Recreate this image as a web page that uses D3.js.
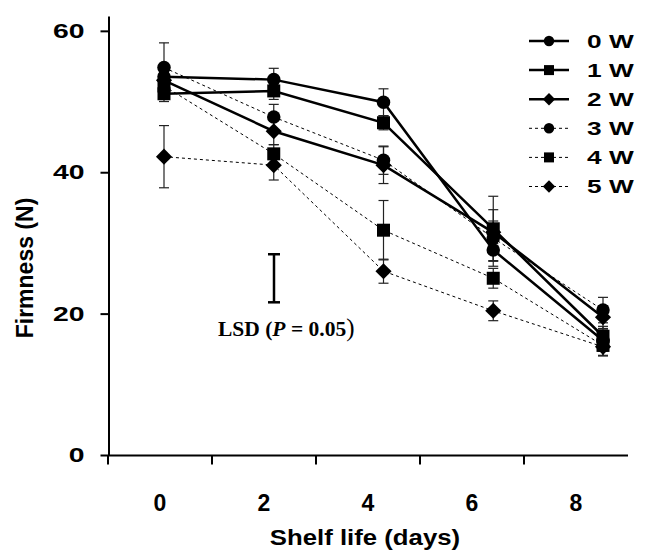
<!DOCTYPE html>
<html>
<head>
<meta charset="utf-8">
<script src="https://cdn.jsdelivr.net/npm/d3@7"></script>
<style>
  html, body { margin: 0; padding: 0; background: #fff; }
  svg { display: block; }
</style>
</head>
<body>
<svg id="chart" width="653" height="552"></svg>
<script>
// Shelf-life days and tick labels
const days = [0, 2, 4, 6, 8];
const dayLabels = ["0", "2", "4", "6", "8"];
const yTicks = [0, 20, 40, 60];

// Series names (storage weeks)
const seriesNames = ["0 W", "1 W", "2 W", "3 W", "4 W", "5 W"];

// Mean firmness (N) per series, one value per day
const firm0W = [53.5, 53.1, 49.9, 29.0, 16.2];
const firm1W = [51.1, 51.5, 47.0, 32.0, 16.8];
const firm2W = [53.0, 45.8, 41.0, 31.5, 19.5];
const firm3W = [54.8, 47.8, 41.7, 30.7, 20.5];
const firm4W = [52.2, 42.6, 31.8, 25.0, 15.5];
const firm5W = [42.2, 41.0, 26.0, 20.4, 15.3];

// Standard errors per series
const err0W = [1.5, 1.6, 1.9, 1.5, 1.5];
const err1W = [1.1, 1.2, 1.0, 4.6, 1.4];
const err2W = [1.2, 1.9, 2.6, 1.6, 1.6];
const err3W = [3.5, 1.8, 2.0, 4.0, 1.8];
const err4W = [1.3, 1.3, 4.2, 1.4, 1.4];
const err5W = [4.4, 2.1, 1.7, 1.4, 1.3];

// LSD bar (P = 0.05): bottom and top in N
const lsdLow = 21.6;
const lsdHigh = 28.4;

const shapes = ["circle", "square", "diamond", "circle", "square", "diamond"];
const dashed = [false, false, false, true, true, true];
const values = [firm0W, firm1W, firm2W, firm3W, firm4W, firm5W];
const errors = [err0W, err1W, err2W, err3W, err4W, err5W];

const series = seriesNames.map((name, i) => ({
  name, shape: shapes[i], dashed: dashed[i],
  points: days.map((d, j) => ({ day: d, v: values[i][j], e: errors[i][j] }))
}));

const SANS = "Liberation Sans, Arial, sans-serif";
const svg = d3.select("#chart");

// horizontal stretch of a text about a fixed anchor x
const stretch = (ax, k) => `translate(${ax},0) scale(${k},1) translate(${-ax},0)`;

// Scales
const xBand = d3.scaleBand().domain(dayLabels).range([108, 628]);
const x = d3.scaleLinear().domain([0, 8]).range([164, 603]);
const y = d3.scaleLinear().domain([0, 62.1]).range([455, 16]);

// Y axis
const yAxis = d3.axisLeft(y).tickValues(yTicks).tickSize(8).tickSizeOuter(0).tickPadding(16);
const yg = svg.append("g").attr("transform", "translate(108.5,0)").call(yAxis);
yg.select(".domain").attr("stroke", "#000").attr("stroke-width", 2);
yg.selectAll(".tick line").attr("stroke", "#000").attr("stroke-width", 2);
yg.selectAll(".tick text")
  .attr("font-family", SANS).attr("font-weight", "bold")
  .attr("font-size", 21).attr("fill", "#000")
  .attr("transform", stretch(-24, 1.35));

// X axis (category labels, ticks between categories)
const xAxis = d3.axisBottom(xBand).tickSize(0);
const xg = svg.append("g").attr("transform", "translate(0,455.5)").call(xAxis);
xg.select(".domain").attr("stroke", "#000").attr("stroke-width", 2).attr("d", "M108,0H628");
xg.selectAll(".tick text")
  .attr("font-family", SANS).attr("font-weight", "bold")
  .attr("font-size", 23).attr("fill", "#000")
  .attr("y", 55).attr("dy", 0);
const bounds = dayLabels.map(l => xBand(l));
xg.selectAll("line.sep").data(bounds).enter().append("line")
  .attr("class", "sep")
  .attr("x1", d => d).attr("x2", d => d)
  .attr("y1", 0).attr("y2", 9)
  .attr("stroke", "#000").attr("stroke-width", 2);

// Axis titles
svg.append("text")
  .attr("x", 365).attr("y", 545)
  .attr("text-anchor", "middle")
  .attr("font-family", SANS).attr("font-weight", "bold").attr("font-size", 23)
  .attr("transform", stretch(365, 1.12))
  .text("Shelf life (days)");

svg.append("text")
  .attr("transform", "translate(33,268) rotate(-90)")
  .attr("text-anchor", "middle")
  .attr("font-family", SANS).attr("font-weight", "bold").attr("font-size", 23)
  .text("Firmness (N)");

// Marker drawing
function marker(g, shape, cx, cy, s) {
  if (shape === "circle") {
    g.append("circle").attr("cx", cx).attr("cy", cy).attr("r", s * 0.52).attr("fill", "#000");
  } else if (shape === "square") {
    g.append("rect").attr("x", cx - s * 0.5).attr("y", cy - s * 0.5)
      .attr("width", s).attr("height", s).attr("fill", "#000");
  } else {
    const h = s * 0.62;
    g.append("path")
      .attr("d", `M${cx},${cy - h}L${cx + h},${cy}L${cx},${cy + h}L${cx - h},${cy}Z`)
      .attr("fill", "#000");
  }
}

const plot = svg.append("g");
const line = d3.line().x(d => x(d.day)).y(d => y(d.v));

// Error bars
series.forEach(s => {
  s.points.forEach(p => {
    const g = plot.append("g").attr("stroke", "#222").attr("stroke-width", 1.2);
    g.append("line").attr("x1", x(p.day)).attr("x2", x(p.day))
      .attr("y1", y(p.v - p.e)).attr("y2", y(p.v + p.e));
    [p.v - p.e, p.v + p.e].forEach(v => {
      g.append("line").attr("x1", x(p.day) - 5).attr("x2", x(p.day) + 5)
        .attr("y1", y(v)).attr("y2", y(v));
    });
  });
});

// Lines
series.forEach(s => {
  plot.append("path").datum(s.points)
    .attr("d", line).attr("fill", "none").attr("stroke", "#000")
    .attr("stroke-width", s.dashed ? 1 : 2.5)
    .attr("stroke-dasharray", s.dashed ? "3,3" : null);
});

// Markers
series.forEach(s => {
  s.points.forEach(p => marker(plot, s.shape, x(p.day), y(p.v), 13));
});

// LSD bar
const lsdX = 274;
const lsd = svg.append("g").attr("stroke", "#000").attr("stroke-width", 2.5);
lsd.append("line").attr("x1", lsdX).attr("x2", lsdX).attr("y1", y(lsdLow)).attr("y2", y(lsdHigh));
[lsdLow, lsdHigh].forEach(v => lsd.append("line")
  .attr("x1", lsdX - 6).attr("x2", lsdX + 6).attr("y1", y(v)).attr("y2", y(v)));

const lsdText = svg.append("text")
  .attr("x", 218).attr("y", 336)
  .attr("font-family", "Liberation Serif, Times New Roman, serif")
  .attr("font-weight", "bold").attr("font-size", 21.5);
lsdText.append("tspan").text("LSD (");
lsdText.append("tspan").attr("font-style", "italic").text("P");
lsdText.append("tspan").text(" = 0.05");
lsdText.append("tspan").attr("font-weight", "normal").attr("font-size", 25).text(")");

// Legend
const legend = svg.append("g");
series.forEach((s, i) => {
  const ly = 41 + i * 29.1;
  legend.append("line").attr("x1", 529).attr("x2", 569).attr("y1", ly).attr("y2", ly)
    .attr("stroke", "#000").attr("stroke-width", s.dashed ? 1 : 2.5)
    .attr("stroke-dasharray", s.dashed ? "3,3" : null);
  marker(legend, s.shape, 549, ly, 10);
  legend.append("text").attr("x", 587).attr("y", ly + 6.7)
    .attr("font-family", SANS).attr("font-weight", "bold").attr("font-size", 18.5)
    .attr("transform", stretch(587, 1.42))
    .text(s.name);
});
</script>
</body>
</html>
